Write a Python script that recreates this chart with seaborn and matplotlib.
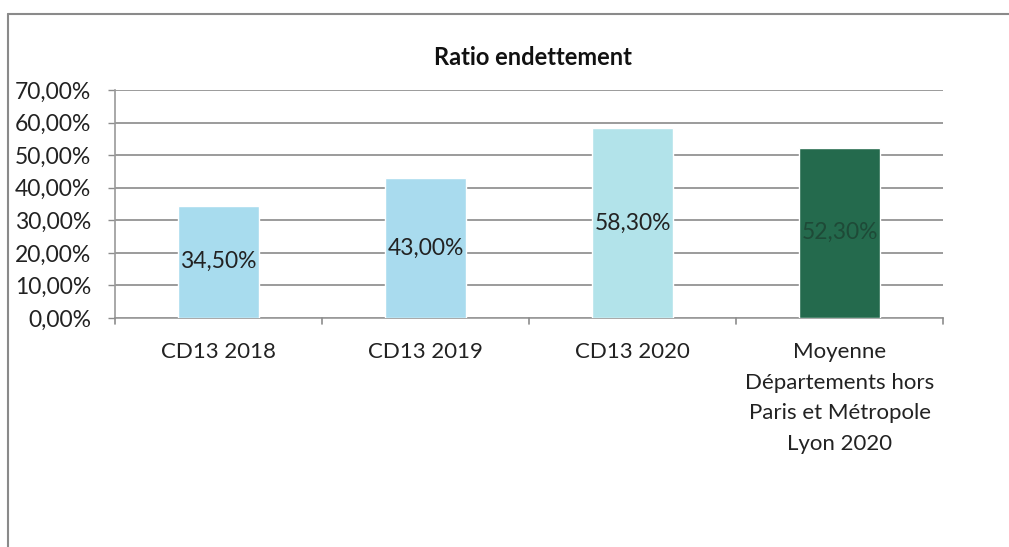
import matplotlib
matplotlib.use("Agg")
import matplotlib.pyplot as plt
from matplotlib.lines import Line2D
import seaborn as sns
import pandas as pd

categories = ["CD13 2018", "CD13 2019", "CD13 2020",
              "Moyenne\nDépartements hors\nParis et Métropole\nLyon 2020"]
ratios = [34.5, 43.0, 58.3, 52.3]
value_labels = ["34,50%", "43,00%", "58,30%", "52,30%"]
y_ticks = [0, 10, 20, 30, 40, 50, 60, 70]
y_tick_labels = ["0,00%", "10,00%", "20,00%", "30,00%", "40,00%", "50,00%", "60,00%", "70,00%"]
title = "Ratio endettement"

bar_colors = ["#a8dcee", "#a9dbee", "#b2e3ea", "#246a4d"]
label_colors = ["#222222", "#222222", "#222222", "#1e4a37"]

sns.set_theme(style="white")
plt.rcParams["font.family"] = ["Lato", "DejaVu Sans"]

df = pd.DataFrame({"cat": categories, "ratio": ratios})

fig = plt.figure(figsize=(10.09, 5.47), dpi=100)
ax = fig.add_axes([0.114, 0.4186, 0.821, 0.417])

sns.barplot(data=df, x="cat", y="ratio", hue="cat", palette=bar_colors,
            legend=False, width=0.39, saturation=1, ax=ax, zorder=3)

ax.set_ylim(0, 70)
ax.set_xlim(-0.5, len(categories) - 0.5)
ax.set_yticks(y_ticks)
ax.set_yticklabels(y_tick_labels, fontsize=16.5, color="#222222")
ax.set_xticks(range(len(categories)))
ax.set_xticklabels(categories, fontsize=16, color="#222222", linespacing=1.68,
                   va="top")
ax.tick_params(axis="x", length=0, pad=17)
ax.tick_params(axis="y", length=5, width=1, color="#8c8c8c", left=True, pad=12)
ax.set_xlabel("")
ax.set_ylabel("")
ax.yaxis.grid(True, color="#8a8a8a", linewidth=1.2, zorder=0)
ax.set_axisbelow(True)
for s in ["top", "right"]:
    ax.spines[s].set_visible(False)
ax.spines["left"].set_color("#9a9a9a")
ax.spines["bottom"].set_color("#9a9a9a")
ax.spines["left"].set_linewidth(1.2)
ax.spines["bottom"].set_linewidth(1.2)

# boundary ticks between categories on the x axis
for b in [i - 0.5 for i in range(len(categories) + 1)]:
    ax.plot([b, b], [0, -1.7], color="#8c8c8c", lw=1.2, clip_on=False, zorder=4)

for i, (v, lab) in enumerate(zip(ratios, value_labels)):
    ax.text(i, v / 2, lab, ha="center", va="center", fontsize=16.5,
            color=label_colors[i], zorder=5)

fig.text(0.528, 0.895, title, ha="center", va="center", fontsize=17,
         fontweight="bold", color="#111111")

# outer frame of the chart
fig.add_artist(Line2D([8 / 1009, 1.0], [1 - 14 / 547, 1 - 14 / 547],
                      transform=fig.transFigure, color="#8a8a8a", lw=1.5))
fig.add_artist(Line2D([8 / 1009, 8 / 1009], [0, 1 - 14 / 547],
                      transform=fig.transFigure, color="#8a8a8a", lw=1.5))

fig.savefig("out.png", dpi=100)
